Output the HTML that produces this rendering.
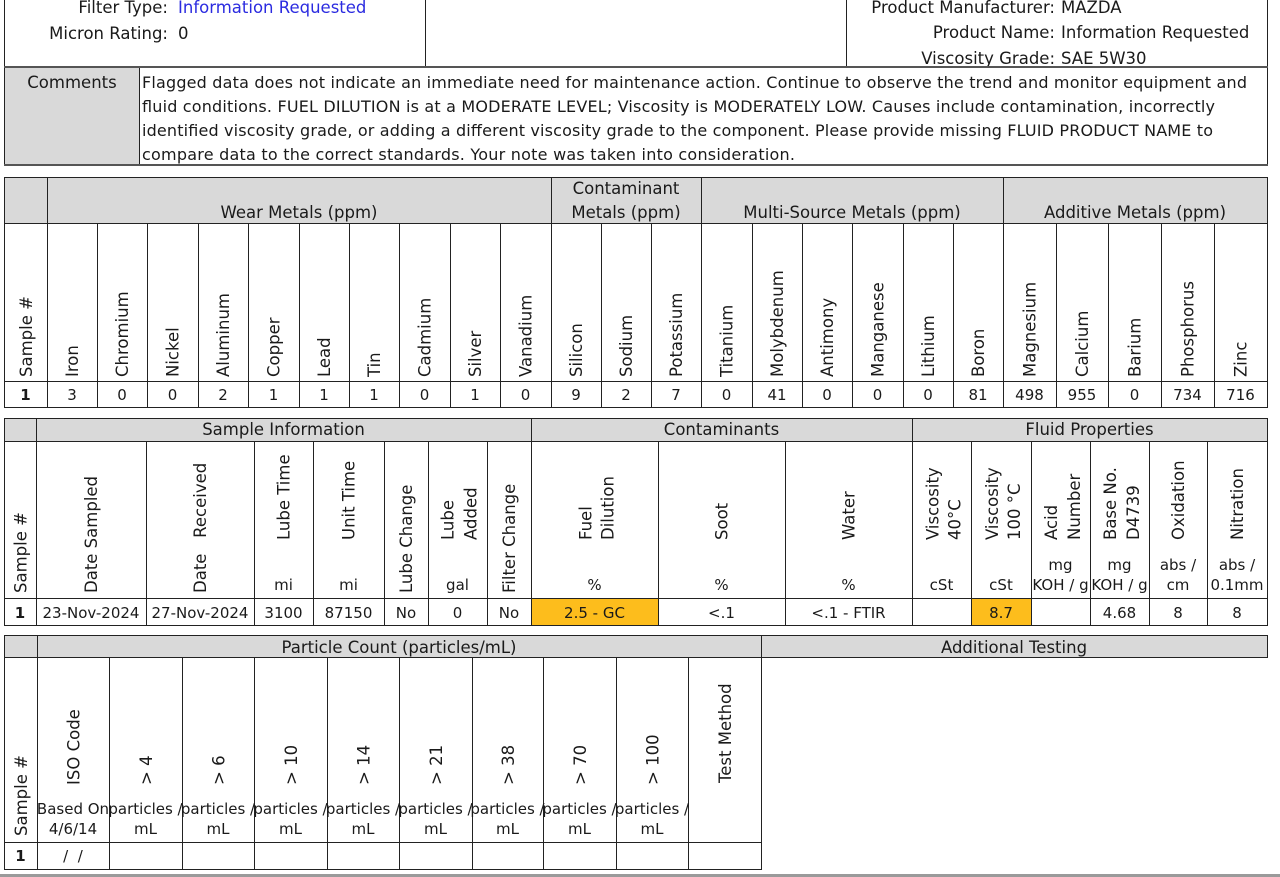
<!DOCTYPE html>
<html><head><meta charset="utf-8">
<style>
html,body{margin:0;padding:0;background:#fff;width:1280px;height:877px;overflow:hidden;}
svg{display:block;}
text{font-family:"DejaVu Sans","Liberation Sans",sans-serif;fill:#1a1a1a;font-size:16.5px;}
.d{font-size:15px;}
.c{text-anchor:middle;}
.e{text-anchor:end;}
.b{font-weight:bold;}
.l{stroke:#222;stroke-width:1;fill:none;shape-rendering:crispEdges;}
.t{stroke:#555;stroke-width:2;fill:none;shape-rendering:crispEdges;}
</style></head><body>
<svg width="1280" height="877" viewBox="0 0 1280 877" xmlns="http://www.w3.org/2000/svg">
<rect x="0" y="0" width="1280" height="877" fill="#fff"/>

<!-- TOP SECTION -->
<path class="l" d="M4.5 0V67 M425.5 0V67 M846.5 0V67 M1267.5 0V67"/>
<text x="168" y="13" class="e">Filter Type:</text>
<text x="178" y="13" style="fill:#2b2be0">Information Requested</text>
<text x="168" y="39" class="e">Micron Rating:</text>
<text x="178" y="39">0</text>
<text x="1055" y="13" class="e">Product Manufacturer:</text>
<text x="1061" y="13">MAZDA</text>
<text x="1055" y="38" class="e">Product Name:</text>
<text x="1061" y="38">Information Requested</text>
<text x="1055" y="64" class="e">Viscosity Grade:</text>
<text x="1061" y="64">SAE 5W30</text>

<!-- COMMENTS -->
<rect x="5" y="68" width="134" height="97" fill="#d9d9d9"/>
<path class="l" d="M4.5 67V166 M139.5 67V165 M1267.5 67V166"/>
<path class="t" d="M4 67H1268 M4 165H1268"/>
<text x="72" y="88" class="c">Comments</text>
<text x="142" y="88" style="font-size:16px" textLength="1105">Flagged data does not indicate an immediate need for maintenance action. Continue to observe the trend and monitor equipment and</text>
<text x="142" y="112" style="font-size:16px" textLength="1073">fluid conditions. FUEL DILUTION is at a MODERATE LEVEL; Viscosity is MODERATELY LOW. Causes include contamination, incorrectly</text>
<text x="142" y="136" style="font-size:16px" textLength="1071">identified viscosity grade, or adding a different viscosity grade to the component. Please provide missing FLUID PRODUCT NAME to</text>
<text x="142" y="160" style="font-size:16px" textLength="653">compare data to the correct standards. Your note was taken into consideration.</text>

<!-- METALS TABLE -->
<rect x="4" y="177" width="1263" height="46" fill="#d9d9d9"/>
<path class="l" d="M4 177.5H1268 M4 223.5H1268 M4 381.5H1268 M4 407.5H1268
M4.5 177V408 M47.5 177V408 M551.5 177V408 M701.5 177V408 M1003.5 177V408 M1267.5 177V408
M97.5 223V408 M147.5 223V408 M198.5 223V408 M248.5 223V408 M299.5 223V408 M349.5 223V408 M399.5 223V408 M450.5 223V408 M500.5 223V408
M601.5 223V408 M651.5 223V408 M752.5 223V408 M802.5 223V408 M852.5 223V408 M903.5 223V408 M953.5 223V408
M1056.5 223V408 M1108.5 223V408 M1161.5 223V408 M1214.5 223V408"/>
<text x="299" y="218" class="c">Wear Metals (ppm)</text>
<text x="626" y="194" class="c">Contaminant</text>
<text x="626" y="218" class="c">Metals (ppm)</text>
<text x="852" y="218" class="c">Multi-Source Metals (ppm)</text>
<text x="1135" y="218" class="c">Additive Metals (ppm)</text>

<text transform="translate(32,377) rotate(-90)">Sample #</text>
<text transform="translate(78,377) rotate(-90)">Iron</text>
<text transform="translate(128,377) rotate(-90)">Chromium</text>
<text transform="translate(178.5,377) rotate(-90)">Nickel</text>
<text transform="translate(229,377) rotate(-90)">Aluminum</text>
<text transform="translate(279.5,377) rotate(-90)">Copper</text>
<text transform="translate(330,377) rotate(-90)">Lead</text>
<text transform="translate(380,377) rotate(-90)">Tin</text>
<text transform="translate(430.5,377) rotate(-90)">Cadmium</text>
<text transform="translate(481,377) rotate(-90)">Silver</text>
<text transform="translate(531.5,377) rotate(-90)">Vanadium</text>
<text transform="translate(582,377) rotate(-90)">Silicon</text>
<text transform="translate(632,377) rotate(-90)">Sodium</text>
<text transform="translate(682,377) rotate(-90)">Potassium</text>
<text transform="translate(732.5,377) rotate(-90)">Titanium</text>
<text transform="translate(783,377) rotate(-90)">Molybdenum</text>
<text transform="translate(833,377) rotate(-90)">Antimony</text>
<text transform="translate(883.5,377) rotate(-90)">Manganese</text>
<text transform="translate(934,377) rotate(-90)">Lithium</text>
<text transform="translate(984,377) rotate(-90)">Boron</text>
<text transform="translate(1035.5,377) rotate(-90)">Magnesium</text>
<text transform="translate(1088,377) rotate(-90)">Calcium</text>
<text transform="translate(1140.5,377) rotate(-90)">Barium</text>
<text transform="translate(1193.5,377) rotate(-90)">Phosphorus</text>
<text transform="translate(1246.5,377) rotate(-90)">Zinc</text>

<g class="d">
<text x="25.5" y="400" class="c b d">1</text>
<text x="72" y="400" class="c d">3</text>
<text x="122" y="400" class="c d">0</text>
<text x="172.5" y="400" class="c d">0</text>
<text x="223" y="400" class="c d">2</text>
<text x="273.5" y="400" class="c d">1</text>
<text x="324" y="400" class="c d">1</text>
<text x="374" y="400" class="c d">1</text>
<text x="424.5" y="400" class="c d">0</text>
<text x="475" y="400" class="c d">1</text>
<text x="525.5" y="400" class="c d">0</text>
<text x="576" y="400" class="c d">9</text>
<text x="626" y="400" class="c d">2</text>
<text x="676" y="400" class="c d">7</text>
<text x="726.5" y="400" class="c d">0</text>
<text x="777" y="400" class="c d">41</text>
<text x="827" y="400" class="c d">0</text>
<text x="877.5" y="400" class="c d">0</text>
<text x="928" y="400" class="c d">0</text>
<text x="978" y="400" class="c d">81</text>
<text x="1029.5" y="400" class="c d">498</text>
<text x="1082" y="400" class="c d">955</text>
<text x="1134.5" y="400" class="c d">0</text>
<text x="1187.5" y="400" class="c d">734</text>
<text x="1240.5" y="400" class="c d">716</text>
</g>

<!-- SAMPLE INFO TABLE -->
<rect x="4" y="418" width="1263" height="23" fill="#d9d9d9"/>
<rect x="531" y="598" width="127" height="27" fill="#fdbd1c"/>
<rect x="971" y="598" width="60" height="27" fill="#fdbd1c"/>
<path class="l" d="M4 418.5H1268 M4 441.5H1268 M4 598.5H1268 M4 625.5H1268
M4.5 418V626 M36.5 418V626 M531.5 418V626 M912.5 418V626 M1267.5 418V626
M146.5 441V626 M254.5 441V626 M313.5 441V626 M384.5 441V626 M428.5 441V626 M487.5 441V626
M658.5 441V626 M785.5 441V626 M971.5 441V626 M1031.5 441V626 M1090.5 441V626 M1149.5 441V626 M1207.5 441V626"/>
<text x="283.5" y="435" class="c">Sample Information</text>
<text x="721.5" y="435" class="c">Contaminants</text>
<text x="1089.5" y="435" class="c">Fluid Properties</text>

<text transform="translate(26.5,593) rotate(-90)">Sample #</text>
<text transform="translate(97,593) rotate(-90)">Date Sampled</text>
<text transform="translate(206,593) rotate(-90)">Date&#160;&#160; Received</text>
<text transform="translate(289.5,540) rotate(-90)">Lube Time</text>
<text transform="translate(354.5,540) rotate(-90)">Unit Time</text>
<text transform="translate(412,593) rotate(-90)">Lube Change</text>
<text transform="translate(453.5,540) rotate(-90)">Lube</text>
<text transform="translate(476.5,540) rotate(-90)">Added</text>
<text transform="translate(515,593) rotate(-90)">Filter Change</text>
<text transform="translate(591.5,540) rotate(-90)">Fuel</text>
<text transform="translate(613.5,540) rotate(-90)">Dilution</text>
<text transform="translate(727.5,540) rotate(-90)">Soot</text>
<text transform="translate(854.5,540) rotate(-90)">Water</text>
<text transform="translate(938.5,540) rotate(-90)">Viscosity</text>
<text transform="translate(960.5,540) rotate(-90)">40°C</text>
<text transform="translate(998,540) rotate(-90)">Viscosity</text>
<text transform="translate(1020,540) rotate(-90)">100 °C</text>
<text transform="translate(1057,540) rotate(-90)">Acid</text>
<text transform="translate(1080,540) rotate(-90)">Number</text>
<text transform="translate(1116,540) rotate(-90)">Base No.</text>
<text transform="translate(1139,540) rotate(-90)">D4739</text>
<text transform="translate(1184,540) rotate(-90)">Oxidation</text>
<text transform="translate(1243,540) rotate(-90)">Nitration</text>

<text x="283.5" y="590" class="c d">mi</text>
<text x="348.5" y="590" class="c d">mi</text>
<text x="457.5" y="590" class="c d">gal</text>
<text x="594.5" y="590" class="c d">%</text>
<text x="721.5" y="590" class="c d">%</text>
<text x="848.5" y="590" class="c d">%</text>
<text x="941.5" y="590" class="c d">cSt</text>
<text x="1001" y="590" class="c d">cSt</text>
<text x="1060.5" y="570" class="c d">mg</text>
<text x="1060.5" y="590" class="c d">KOH / g</text>
<text x="1119.5" y="570" class="c d">mg</text>
<text x="1119.5" y="590" class="c d">KOH / g</text>
<text x="1178" y="570" class="c d">abs /</text>
<text x="1178" y="590" class="c d">cm</text>
<text x="1237" y="570" class="c d">abs /</text>
<text x="1237" y="590" class="c d">0.1mm</text>

<text x="20" y="618" class="c b d">1</text>
<text x="91" y="618" class="c d">23-Nov-2024</text>
<text x="200" y="618" class="c d">27-Nov-2024</text>
<text x="283.5" y="618" class="c d">3100</text>
<text x="348.5" y="618" class="c d">87150</text>
<text x="406" y="618" class="c d">No</text>
<text x="457.5" y="618" class="c d">0</text>
<text x="509" y="618" class="c d">No</text>
<text x="594.5" y="618" class="c d">2.5 - GC</text>
<text x="721.5" y="618" class="c d">&lt;.1</text>
<text x="848.5" y="618" class="c d">&lt;.1 - FTIR</text>
<text x="1001" y="618" class="c d">8.7</text>
<text x="1119.5" y="618" class="c d">4.68</text>
<text x="1178" y="618" class="c d">8</text>
<text x="1237" y="618" class="c d">8</text>

<!-- PARTICLE COUNT TABLE -->
<rect x="4" y="635" width="1263" height="22" fill="#d9d9d9"/>
<path class="l" d="M4 635.5H1268 M4 657.5H1268 M4 842.5H762 M4 869.5H762
M4.5 635V870 M37.5 635V870 M761.5 635V870 M1267.5 635V658
M109.5 657V870 M182.5 657V870 M254.5 657V870 M327.5 657V870 M399.5 657V870 M472.5 657V870 M543.5 657V870 M616.5 657V870 M688.5 657V870"/>
<text x="399" y="653" class="c">Particle Count (particles/mL)</text>
<text x="1014" y="653" class="c">Additional Testing</text>

<text transform="translate(27,836) rotate(-90)">Sample #</text>
<text transform="translate(79.5,785) rotate(-90)">ISO Code</text>
<text transform="translate(152,785) rotate(-90)">&gt; 4</text>
<text transform="translate(224.5,785) rotate(-90)">&gt; 6</text>
<text transform="translate(297,785) rotate(-90)">&gt; 10</text>
<text transform="translate(369.5,785) rotate(-90)">&gt; 14</text>
<text transform="translate(442,785) rotate(-90)">&gt; 21</text>
<text transform="translate(514,785) rotate(-90)">&gt; 38</text>
<text transform="translate(586,785) rotate(-90)">&gt; 70</text>
<text transform="translate(658.5,785) rotate(-90)">&gt; 100</text>
<text transform="translate(731,783) rotate(-90)">Test Method</text>

<text x="73" y="814" class="c d">Based On</text>
<text x="73" y="834" class="c d">4/6/14</text>
<text x="145.5" y="814" class="c d">particles /</text>
<text x="145.5" y="834" class="c d">mL</text>
<text x="218" y="814" class="c d">particles /</text>
<text x="218" y="834" class="c d">mL</text>
<text x="290.5" y="814" class="c d">particles /</text>
<text x="290.5" y="834" class="c d">mL</text>
<text x="363" y="814" class="c d">particles /</text>
<text x="363" y="834" class="c d">mL</text>
<text x="435.5" y="814" class="c d">particles /</text>
<text x="435.5" y="834" class="c d">mL</text>
<text x="507.5" y="814" class="c d">particles /</text>
<text x="507.5" y="834" class="c d">mL</text>
<text x="579.5" y="814" class="c d">particles /</text>
<text x="579.5" y="834" class="c d">mL</text>
<text x="652" y="814" class="c d">particles /</text>
<text x="652" y="834" class="c d">mL</text>

<text x="20.5" y="861" class="c b d">1</text>
<text x="73" y="861" class="c d">/&#160;&#160;/</text>

<rect x="0" y="874" width="1280" height="3" fill="#9a9a9a"/>
</svg>
</body></html>
